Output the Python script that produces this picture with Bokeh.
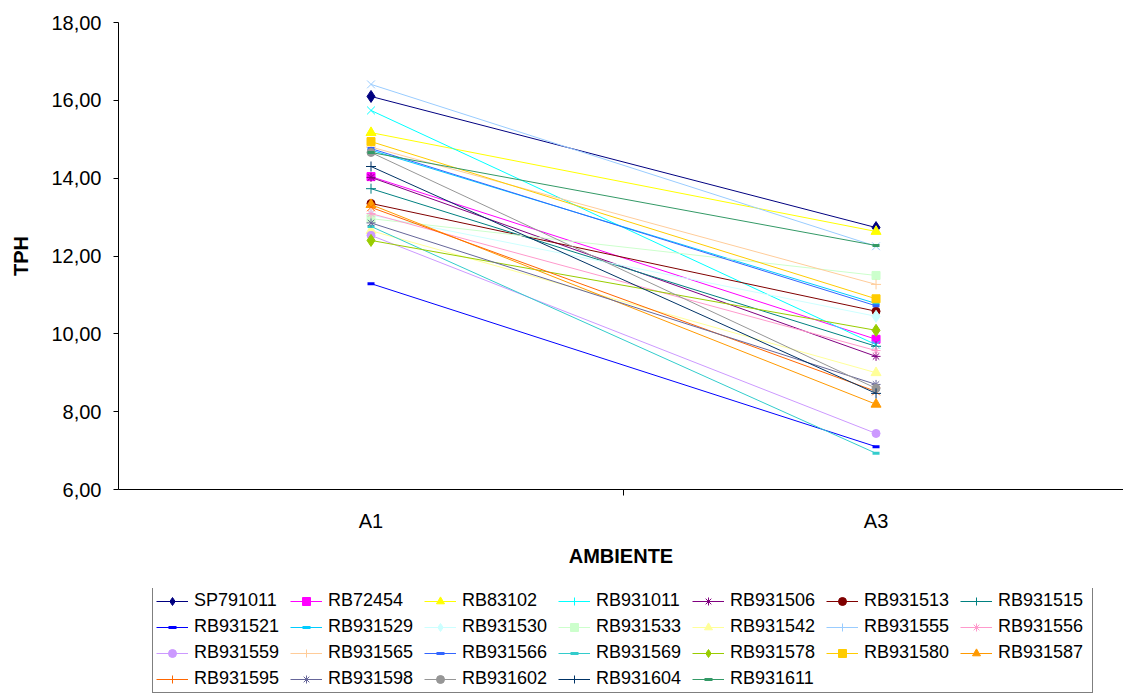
import math
from bokeh.plotting import figure
from bokeh.layouts import column
from bokeh.models import Range1d, FixedTicker, Legend, LegendItem
from bokeh.embed import file_html
from bokeh.resources import INLINE

categories = ["A1", "A3"]
names = ["SP791011", "RB72454", "RB83102", "RB931011", "RB931506", "RB931513", "RB931515",
         "RB931521", "RB931529", "RB931530", "RB931533", "RB931542", "RB931555", "RB931556",
         "RB931559", "RB931565", "RB931566", "RB931569", "RB931578", "RB931580", "RB931587",
         "RB931595", "RB931598", "RB931602", "RB931604", "RB931611"]
a1 = [16.10, 14.04, 15.17, 15.74, 14.02, 13.35, 13.73,
      11.29, 14.72, 13.05, 12.96, 12.65, 16.41, 13.09,
      12.53, 14.80, 14.76, 12.76, 12.40, 14.94, 13.32,
      13.25, 12.85, 14.66, 14.30, 14.66]
a3 = [12.73, 9.86, 12.63, 9.72, 9.42, 10.58, 9.68,
      7.10, 10.78, 10.45, 11.50, 9.00, 12.25, 9.57,
      7.44, 11.27, 10.72, 6.93, 10.09, 10.90, 8.19,
      8.52, 8.70, 8.60, 8.47, 12.27]
colors = ["#000080", "#FF00FF", "#FFFF00", "#00FFFF", "#800080", "#800000", "#008080",
          "#0000FF", "#00CCFF", "#CCFFFF", "#CCFFCC", "#FFFF99", "#99CCFF", "#FF99CC",
          "#CC99FF", "#FFCC99", "#3366FF", "#33CCCC", "#99CC00", "#FFCC00", "#FF9900",
          "#FF6600", "#666699", "#969696", "#003366", "#339966"]
markers = ["diamond", "square", "triangle", "x", "asterisk", "circle", "cross",
           "dash", "dash", "diamond", "square", "triangle", "x", "asterisk",
           "circle", "cross", "dash", "dash", "diamond", "square", "triangle",
           "x", "asterisk", "circle", "cross", "dash"]
y_ticks = [6, 8, 10, 12, 14, 16, 18]
y_tick_labels = ["6,00", "8,00", "10,00", "12,00", "14,00", "16,00", "18,00"]

marker_size = {"diamond": 12, "square": 8, "triangle": 10, "x": 11, "asterisk": 9,
               "circle": 8, "cross": 10, "dash": 7}
marker_lw = {"diamond": 1, "square": 1, "triangle": 1, "x": 1, "asterisk": 1,
             "circle": 1, "cross": 1, "dash": 3}

FONT = "Liberation Sans"
xs = [i + 0.5 for i in range(len(categories))]
bounds = [float(i) for i in range(1, len(categories))]


def draw_series(fig):
    items = []
    for i, name in enumerate(names):
        ys = [a1[i], a3[i]]
        rl = fig.line(xs, ys, line_color=colors[i], line_width=1)
        m = markers[i]
        # an "x" is drawn as a cross turned by 45 degrees
        glyph_marker = "cross" if m == "x" else m
        angle = math.pi / 4 if m == "x" else 0
        rs = fig.scatter(xs, ys, marker=glyph_marker, angle=angle, size=marker_size[m],
                         fill_color=colors[i], line_color=colors[i],
                         line_width=marker_lw[m])
        items.append(LegendItem(label=name, renderers=[rl, rs]))
    return items


p = figure(width=1123, height=588, output_backend="svg", toolbar_location=None,
           x_range=Range1d(0, 1.99), y_range=Range1d(6, 18),
           min_border_left=118, min_border_top=22, min_border_right=0, min_border_bottom=99)
p.outline_line_color = None
p.background_fill_color = "white"
p.border_fill_color = "white"
p.xgrid.visible = False
p.ygrid.ticker = FixedTicker(ticks=[y_ticks[-1]])
p.ygrid.grid_line_color = "#808080"

draw_series(p)

# axes
p.xaxis.ticker = FixedTicker(ticks=xs, minor_ticks=bounds)
p.xaxis.major_label_overrides = {x: c for x, c in zip(xs, categories)}
p.xaxis.major_tick_line_color = None
p.xaxis.major_tick_out = 0
p.xaxis.major_tick_in = 0
p.xaxis.minor_tick_line_color = "black"
p.xaxis.minor_tick_out = 6
p.xaxis.minor_tick_in = 0
p.xaxis.major_label_standoff = 14
p.xaxis.axis_label = "AMBIENTE"
p.xaxis.axis_label_standoff = 10

p.yaxis.ticker = FixedTicker(ticks=y_ticks)
p.yaxis.major_label_overrides = {t: l for t, l in zip(y_ticks, y_tick_labels)}
p.yaxis.major_tick_out = 5
p.yaxis.major_tick_in = 0
p.yaxis.minor_tick_line_color = None
p.yaxis.major_label_standoff = 12
p.yaxis.axis_label = "TPH"
p.yaxis.axis_label_standoff = 16

for ax in (p.xaxis, p.yaxis):
    ax.axis_line_color = "black"
    ax.major_label_text_font = FONT
    ax.major_label_text_font_size = "20px"
    ax.major_label_text_color = "black"
    ax.axis_label_text_font = FONT
    ax.axis_label_text_font_size = "20px"
    ax.axis_label_text_font_style = "bold"
    ax.axis_label_text_color = "black"

# legend figure (its series lie outside its visible range, only the legend shows)
lg = figure(width=1123, height=105, output_backend="svg", toolbar_location=None,
            x_range=Range1d(100, 101), y_range=Range1d(100, 101),
            x_axis_type=None, y_axis_type=None,
            min_border_left=0, min_border_right=0, min_border_top=0, min_border_bottom=0)
lg.outline_line_color = None
lg.xgrid.visible = False
lg.ygrid.visible = False
lg.background_fill_color = "white"
lg.border_fill_color = "white"
items = draw_series(lg)

legend = Legend(items=items, orientation="horizontal", ncols=7, location=(34, 0))
legend.label_text_font = FONT
legend.label_text_font_size = "18px"
legend.label_text_color = "black"
legend.label_standoff = 6
legend.label_width = 91
legend.label_height = 20
legend.glyph_width = 32
legend.glyph_height = 20
legend.spacing = 5
legend.padding = 3
legend.margin = 0
legend.border_line_color = "black"
legend.border_line_width = 1
legend.background_fill_color = "white"
legend.background_fill_alpha = 1
lg.add_layout(legend)

layout = column(p, lg, spacing=0)
open("out.html", "w").write(file_html(layout, INLINE))
